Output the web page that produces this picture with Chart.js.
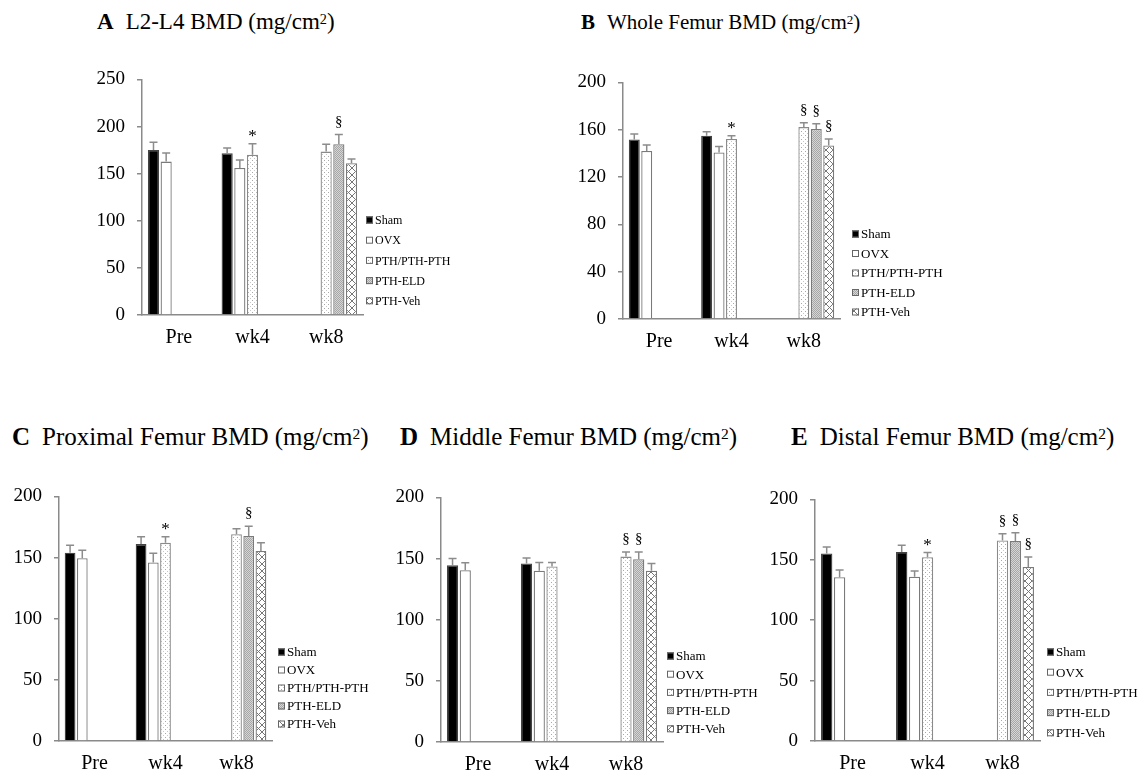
<!DOCTYPE html>
<html>
<head>
<meta charset="utf-8">
<script src="https://cdn.jsdelivr.net/npm/chart.js@4"></script>
<style>
  body { margin: 0; background: #fff; width: 1143px; height: 773px; overflow: hidden; position: relative; font-family: 'Liberation Serif', serif; }
  .t { position: absolute; white-space: nowrap; color: #000; }
  .t b { margin-right: 12px; }
  .t sup { font-size: 0.62em; line-height: 0; vertical-align: 0.38em; }
  .top { font-size: 22px; line-height: 22px; }
  .bot { font-size: 25px; line-height: 25px; }
  canvas { position: absolute; }
</style>
</head>
<body>
<div class="t top" style="left:97px;top:11px;font-size:23px"><b>A</b>L2-L4 BMD (mg/cm<sup>2</sup>)</div>
<div class="t top" style="left:581px;top:11px;font-size:21px"><b>B</b>Whole Femur BMD (mg/cm<sup>2</sup>)</div>
<div class="t bot" style="left:12px;top:424px"><b>C</b>Proximal Femur BMD (mg/cm<sup>2</sup>)</div>
<div class="t bot" style="left:400px;top:424px"><b>D</b>Middle Femur BMD (mg/cm<sup>2</sup>)</div>
<div class="t bot" style="left:791px;top:424px"><b>E</b>Distal Femur BMD (mg/cm<sup>2</sup>)</div>
<script>
const categories = ['Pre', 'wk4', 'wk8'];
const groups = ['Sham', 'OVX', 'PTH/PTH-PTH', 'PTH-ELD', 'PTH-Veh'];

// rows follow groups, columns follow categories
// A: L2-L4
const meanA = [[175.2, 171.6, null], [162.8, 156, null], [null, 170, 173.4], [null, null, 181.2], [null, null, 161]];
const semA  = [[8, 5.5, null], [9, 8.5, null], [null, 11.6, 7.8], [null, null, 10.3], [null, null, 4.6]];
const markA = [['', '', ''], ['', '', ''], ['', '*', ''], ['', '', '§'], ['', '', '']];

// B: whole femur
const meanB = [[151.7, 155, null], [142, 140.8, null], [null, 152.2, 162.2], [null, null, 160.6], [null, null, 146.7]];
const semB  = [[4.7, 3.3, null], [5, 5, null], [null, 2.8, 3.6], [null, null, 4.4], [null, null, 5.5]];
const markB = [['', '', ''], ['', '', ''], ['', '*', '§'], ['', '', '§'], ['', '', '§']];

// C: proximal femur
const meanC = [[154, 161, null], [149.5, 146, null], [null, 162, 169], [null, null, 167.6], [null, null, 155.4]];
const semC  = [[6, 6, null], [6.5, 7.5, null], [null, 5, 4.5], [null, null, 8], [null, null, 6.6]];
const markC = [['', '', ''], ['', '', ''], ['', '*', ''], ['', '', '§'], ['', '', '']];

// D: middle femur
const meanD = [[144.6, 146, null], [140.5, 140, null], [null, 143.5, 151.6], [null, null, 149.5], [null, null, 140]];
const semD  = [[5.4, 4.5, null], [6, 6.8, null], [null, 3.3, 3.8], [null, null, 5.9], [null, null, 6]];
const markD = [['', '', ''], ['', '', ''], ['', '', '§'], ['', '', '§'], ['', '', '']];

// E: distal femur
const meanE = [[155.2, 156.5, null], [135.6, 136, null], [null, 152.2, 166], [null, null, 165.5], [null, null, 144]];
const semE  = [[5.4, 5.5, null], [6, 4.8, null], [null, 3.8, 5.5], [null, null, 6.8], [null, null, 8.4]];
const markE = [['', '', ''], ['', '', ''], ['', '*', '§'], ['', '', '§'], ['', '', '§']];

const FONT = "'Liberation Serif', serif";
const AXIS = '#8a8a8a';

function tile(size, draw) {
  const c = document.createElement('canvas');
  c.width = size; c.height = size;
  const g = c.getContext('2d');
  draw(g);
  return g.createPattern(c, 'repeat');
}

const dotted = tile(4, g => {
  g.fillStyle = '#fff'; g.fillRect(0, 0, 4, 4);
  g.fillStyle = '#a8a8a8'; g.fillRect(0, 0, 1, 1);
  g.fillStyle = '#c8c8c8'; g.fillRect(2, 2, 1, 1);
});
const greyDots = tile(2, g => {
  g.fillStyle = '#d6d6d6'; g.fillRect(0, 0, 2, 2);
  g.fillStyle = '#a6a6a6'; g.fillRect(0, 0, 1, 1); g.fillRect(1, 1, 1, 1);
});
const hatch = tile(7, g => {
  g.fillStyle = '#fff'; g.fillRect(0, 0, 7, 7);
  g.strokeStyle = '#777'; g.lineWidth = 1;
  g.beginPath();
  g.moveTo(0, 0); g.lineTo(7, 7);
  g.moveTo(7, 0); g.lineTo(0, 7);
  g.stroke();
});

const fills = ['#000', '#fff', dotted, greyDots, hatch];
const edges = ['#444', '#7a7a7a', '#8a8a8a', '#7a7a7a', '#7a7a7a'];

const errorBars = {
  id: 'errorBars',
  afterDatasetsDraw(chart) {
    const { ctx } = chart;
    const y = chart.scales.y;
    ctx.save();
    chart.data.datasets.forEach((ds, i) => {
      chart.getDatasetMeta(i).data.forEach((bar, j) => {
        const v = ds.data[j];
        if (v == null) return;
        const yTop = y.getPixelForValue(v + ds.sem[j]);
        ctx.strokeStyle = '#8c8c8c';
        ctx.lineWidth = 1.5;
        ctx.beginPath();
        ctx.moveTo(bar.x, bar.y);
        ctx.lineTo(bar.x, yTop);
        ctx.moveTo(bar.x - 4, yTop);
        ctx.lineTo(bar.x + 4, yTop);
        ctx.stroke();
        const m = ds.mark[j];
        if (m) {
          ctx.fillStyle = '#000';
          ctx.textAlign = 'center';
          ctx.textBaseline = 'alphabetic';
          ctx.font = (m === '*' ? '17px ' : '15px ') + FONT;
          ctx.fillText(m, bar.x, yTop - (m === '*' ? 3 : 9));
        }
      });
    });
    ctx.restore();
  }
};

const sideLegend = {
  id: 'sideLegend',
  afterDraw(chart, args, o) {
    const { ctx } = chart;
    ctx.save();
    ctx.font = o.size + 'px ' + FONT;
    ctx.textBaseline = 'middle';
    ctx.textAlign = 'left';
    chart.data.datasets.forEach((ds, i) => {
      const cy = o.y + i * o.gap;
      ctx.fillStyle = ds.backgroundColor;
      ctx.fillRect(o.x, cy - 3.5, 7, 7);
      ctx.strokeStyle = '#666';
      ctx.lineWidth = 1;
      ctx.strokeRect(o.x + 0.5, cy - 3, 6, 6);
      ctx.fillStyle = '#000';
      ctx.fillText(ds.label, o.x + 9, cy + 1);
    });
    ctx.restore();
  }
};

const panels = [
  { mean: meanA, sem: semA, mark: markA, max: 250, step: 50, left: 142, top: 76, right: 363, bottom: 315, legX: 366, legY: 220, legGap: 20.2, legSize: 12 },
  { mean: meanB, sem: semB, mark: markB, max: 200, step: 40, left: 623, top: 79, right: 840, bottom: 319, legX: 852, legY: 234, legGap: 19.5, legSize: 13 },
  { mean: meanC, sem: semC, mark: markC, max: 200, step: 50, left: 59, top: 493, right: 272, bottom: 741, legX: 278, legY: 652, legGap: 18, legSize: 13 },
  { mean: meanD, sem: semD, mark: markD, max: 200, step: 50, left: 441, top: 494, right: 663, bottom: 742, legX: 667, legY: 656, legGap: 18.2, legSize: 13 },
  { mean: meanE, sem: semE, mark: markE, max: 200, step: 50, left: 815, top: 496, right: 1040, bottom: 741, legX: 1047, legY: 652, legGap: 20.2, legSize: 13 }
];

function makePanel(p) {
  const padL = 70, padT = 20, axisH = 40;
  const padR = Math.min(110, 1143 - p.right);
  const w = padL + (p.right - p.left) + padR;
  const h = padT + (p.bottom - p.top) + axisH;
  const ox = p.left - padL, oy = p.top - padT;
  const cv = document.createElement('canvas');
  cv.width = w; cv.height = h;
  cv.style.left = ox + 'px'; cv.style.top = oy + 'px';
  cv.style.width = w + 'px'; cv.style.height = h + 'px';
  document.body.appendChild(cv);

  new Chart(cv, {
    type: 'bar',
    data: {
      labels: categories,
      datasets: groups.map((g, i) => ({
        label: g,
        data: p.mean[i],
        sem: p.sem[i],
        mark: p.mark[i],
        backgroundColor: fills[i],
        borderColor: edges[i],
        borderWidth: 1.3,
        categoryPercentage: 0.86,
        barPercentage: 0.88
      }))
    },
    options: {
      responsive: false,
      animation: false,
      layout: { padding: { top: padT, right: padR, left: 0, bottom: 0 } },
      plugins: {
        legend: { display: false },
        tooltip: { enabled: false },
        sideLegend: { x: p.legX - ox, y: p.legY - oy, gap: p.legGap, size: p.legSize }
      },
      scales: {
        x: {
          grid: { display: false },
          border: { display: true, color: AXIS, width: 1.5 },
          ticks: { color: '#000', font: { family: FONT, size: 20 }, padding: 3 },
          afterFit: s => { s.height = axisH; }
        },
        y: {
          min: 0,
          max: p.max,
          ticks: { stepSize: p.step, color: '#000', font: { family: FONT, size: 19 }, padding: 12 },
          grid: { display: true, drawOnChartArea: false, drawTicks: true, tickLength: 5, color: AXIS, lineWidth: 1.5 },
          border: { display: true, color: AXIS, width: 1.5 },
          afterFit: s => { s.width = padL; }
        }
      }
    },
    plugins: [errorBars, sideLegend]
  });
}

panels.forEach(makePanel);
</script>
</body>
</html>
